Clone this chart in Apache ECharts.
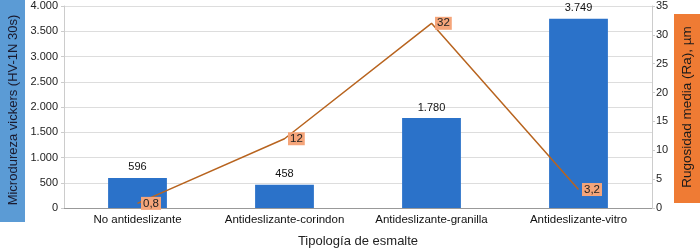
<!DOCTYPE html>
<html><head><meta charset="utf-8">
<script src="https://cdn.jsdelivr.net/npm/echarts@6/dist/echarts.min.js"></script>
<style>html,body{margin:0;padding:0;background:#fff}#c{width:700px;height:248px}</style>
</head><body><div id="c"></div>
<script>
const categories = ['No antideslizante','Antideslizante-corindon','Antideslizante-granilla','Antideslizante-vitro'];
const hardness = [596, 458, 1780, 3749];
const roughness = [0.8, 12, 32, 3.2];
const leftTitle = 'Microdureza vickers (HV-1N 30s)';
const rightTitle = 'Rugosidad media (Ra), µm';
const xTitle = 'Tipología de esmalte';

const fmtThousands = v => String(v).replace(/\B(?=(\d{3})+(?!\d))/g, '.');
const fmtDec = v => String(v).replace('.', ',');
const font = 'Liberation Sans, Arial, sans-serif';

const chart = echarts.init(document.getElementById('c'));
chart.setOption({
  animation: false,
  textStyle: { fontFamily: font },
  grid: { left: 64, right: 48, top: 6, bottom: 40, outerBoundsMode: 'none', containLabel: false },
  xAxis: {
    type: 'category', data: categories,
    name: xTitle, nameLocation: 'middle', nameGap: 27,
    nameTextStyle: { fontSize: 13, color: '#222', fontFamily: font },
    axisLine: { lineStyle: { color: '#999' } },
    axisTick: { show: false },
    axisLabel: { color: '#111', fontSize: 11.5, margin: 6, interval: 0 }
  },
  yAxis: [{
    type: 'value', min: 0, max: 4000, interval: 500,
    axisLine: { show: true, lineStyle: { color: '#ccc' } },
    axisTick: { show: true, length: 3, lineStyle: { color: '#ccc' } },
    axisLabel: { color: '#222', fontSize: 11, margin: 6, formatter: fmtThousands },
    splitLine: { lineStyle: { color: '#ddd' } }
  }, {
    type: 'value', min: 0, max: 35, interval: 5,
    axisLine: { show: true, lineStyle: { color: '#ccc' } },
    axisTick: { show: true, length: 3, lineStyle: { color: '#ccc' } },
    axisLabel: { color: '#222', fontSize: 11, margin: 4 },
    splitLine: { show: false }
  }],
  series: [{
    type: 'bar', data: hardness, barWidth: '40%', yAxisIndex: 0,
    itemStyle: { color: '#2b72c9' },
    label: { show: true, position: 'top', color: '#111', fontSize: 11, distance: 5,
      formatter: p => fmtThousands(p.value) }
  }, {
    type: 'line', data: roughness, yAxisIndex: 1,
    symbol: 'circle', symbolSize: 1, showSymbol: true,
    itemStyle: { color: 'rgba(0,0,0,0)' },
    lineStyle: { color: '#b8641f', width: 1.5 },
    label: { show: true, position: 'right', distance: 3, color: '#222', fontSize: 11.5,
      backgroundColor: '#f5a57a', padding: [1, 2, 0, 2],
      formatter: p => fmtDec(p.value) }
  }],
  graphic: [
    { type: 'rect', left: 0, top: 0, shape: { width: 25, height: 222 }, style: { fill: '#5b9bd5' } },
    { type: 'text', x: 13, y: 110, rotation: Math.PI / 2,
      style: { text: leftTitle, fill: '#1a1a2e', font: '13px ' + font, align: 'center', verticalAlign: 'middle' } },
    { type: 'rect', left: 674, top: 14, shape: { width: 26, height: 189 }, style: { fill: '#ef7b34' } },
    { type: 'text', x: 687, y: 107, rotation: Math.PI / 2,
      style: { text: rightTitle, fill: '#1a1a1a', font: '13.5px ' + font, align: 'center', verticalAlign: 'middle' } }
  ]
});
</script></body></html>
